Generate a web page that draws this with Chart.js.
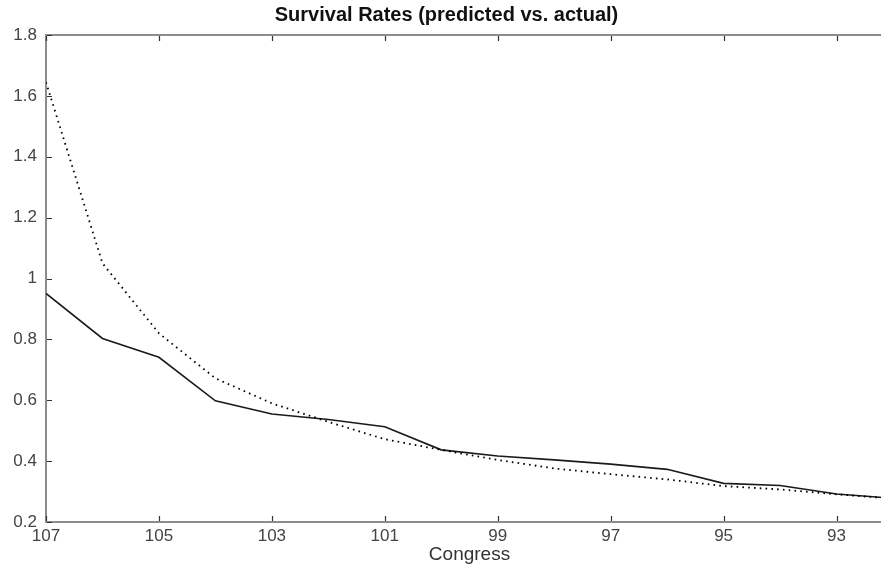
<!DOCTYPE html>
<html>
<head>
<meta charset="utf-8">
<script src="https://cdn.jsdelivr.net/npm/chart.js@4/dist/chart.umd.min.js"></script>
<style>
  html, body { margin: 0; padding: 0; background: #fff; overflow: hidden; }
  #wrap { width: 900px; height: 564px; }
</style>
</head>
<body>
<div id="wrap"><canvas id="grafico" width="900" height="564"></canvas></div>
<script>
const congressos = [107, 106, 105, 104, 103, 102, 101, 100, 99, 98, 97, 96, 95, 94, 93, 92];
const real = [0.951, 0.803, 0.741, 0.598, 0.555, 0.537, 0.513, 0.437, 0.417, 0.404, 0.39, 0.373, 0.327, 0.32, 0.292, 0.278];
const previsto = [1.645, 1.05, 0.82, 0.672, 0.59, 0.529, 0.472, 0.437, 0.404, 0.376, 0.357, 0.34, 0.318, 0.307, 0.291, 0.277];
const ticksX = [107, 105, 103, 101, 99, 97, 95, 93];
const ticksY = [0.2, 0.4, 0.6, 0.8, 1, 1.2, 1.4, 1.6, 1.8];

const corEixo = '#8c8c8c';
const fonte = "'Liberation Sans', Arial, Helvetica, sans-serif";

// ticks para dentro + borda de cima, estilo matlab
const moldura = {
  id: 'moldura',
  afterDraw(chart) {
    const { ctx, chartArea: a, scales } = chart;
    ctx.save();
    ctx.strokeStyle = corEixo;
    ctx.lineWidth = 2;
    ctx.beginPath();
    ctx.moveTo(a.left - 1, a.top);
    ctx.lineTo(a.right, a.top);
    ctx.lineTo(a.right, a.bottom);
    ctx.stroke();
    ctx.strokeStyle = '#333';
    ctx.lineWidth = 1.2;
    ctx.beginPath();
    ticksX.forEach(v => {
      const x = Math.round(scales.x.getPixelForValue(v)) + 0.5;
      ctx.moveTo(x, a.bottom - 1); ctx.lineTo(x, a.bottom - 6);
      ctx.moveTo(x, a.top + 1); ctx.lineTo(x, a.top + 6);
    });
    ticksY.forEach(v => {
      const y = Math.round(scales.y.getPixelForValue(v)) + 0.5;
      ctx.moveTo(a.left + 1, y); ctx.lineTo(a.left + 6, y);
      ctx.moveTo(a.right - 1, y); ctx.lineTo(a.right - 6, y);
    });
    ctx.stroke();
    ctx.restore();
  }
};

new Chart(document.getElementById('grafico'), {
  type: 'line',
  data: {
    datasets: [
      {
        label: 'previsto',
        data: congressos.map((c, i) => ({ x: c, y: previsto[i] })),
        borderColor: '#000',
        borderWidth: 1.8,
        borderDash: [1.6, 4.2],
        pointRadius: 0,
        tension: 0
      },
      {
        label: 'real',
        data: congressos.map((c, i) => ({ x: c, y: real[i] })),
        borderColor: '#1a1a1a',
        borderWidth: 1.6,
        pointRadius: 0,
        tension: 0
      }
    ]
  },
  options: {
    responsive: false,
    animation: false,
    layout: { padding: { left: 0, right: 7, top: 0, bottom: 0 } },
    plugins: {
      legend: { display: false },
      tooltip: { enabled: false },
      title: {
        display: true,
        text: 'Survival Rates (predicted vs. actual)',
        color: '#111',
        font: { family: fonte, size: 20, weight: 'bold' },
        padding: { top: 3, bottom: 8 }
      }
    },
    scales: {
      x: {
        type: 'linear',
        reverse: true,
        min: 92,
        max: 107,
        afterBuildTicks: s => { s.ticks = ticksX.map(v => ({ value: v })); },
        afterFit: s => { s.height = 42; },
        grid: { display: false, drawTicks: false },
        border: { display: true, color: corEixo, width: 2 },
        ticks: {
          color: '#444',
          padding: 5,
          maxRotation: 0,
          font: { family: fonte, size: 17, lineHeight: 1.1 },
          callback: v => String(v)
        },
        title: {
          display: true,
          text: 'Congress',
          color: '#333',
          padding: { top: 0, bottom: 0 },
          font: { family: fonte, size: 19, lineHeight: 1 }
        }
      },
      y: {
        min: 0.2,
        max: 1.8,
        afterBuildTicks: s => { s.ticks = ticksY.map(v => ({ value: v })); },
        afterFit: s => { s.width = 46; },
        grid: { display: false, drawTicks: false },
        border: { display: true, color: corEixo, width: 2 },
        ticks: {
          color: '#444',
          padding: 9,
          font: { family: fonte, size: 17 },
          callback: v => String(+v.toFixed(1))
        }
      }
    }
  },
  plugins: [moldura]
});
</script>
</body>
</html>
